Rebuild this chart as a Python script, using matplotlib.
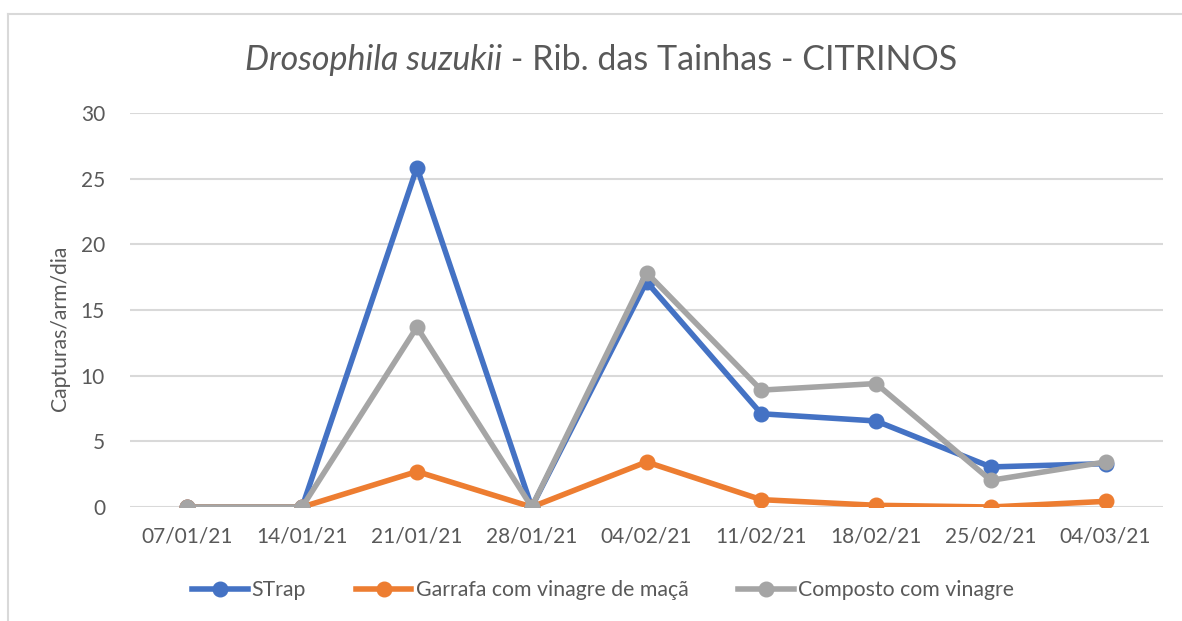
import matplotlib
matplotlib.use("Agg")
from matplotlib import pyplot as plt
from matplotlib.lines import Line2D

# Data
dates = ["07/01/21", "14/01/21", "21/01/21", "28/01/21", "04/02/21",
         "11/02/21", "18/02/21", "25/02/21", "04/03/21"]
strap = [0, 0, 25.85, 0, 17.15, 7.1, 6.55, 3.05, 3.3]
garrafa = [0, 0, 2.7, 0, 3.43, 0.56, 0.13, 0, 0.43]
composto = [0, 0, 13.7, 0, 17.85, 8.9, 9.4, 2.03, 3.43]

series_names = ["STrap", "Garrafa com vinagre de maçã", "Composto com vinagre"]
colors = ["#4472C4", "#ED7D31", "#A5A5A5"]
y_ticks = [0, 5, 10, 15, 20, 25, 30]

TEXT_COLOR = "#595959"
GRID_COLOR = "#D9D9D9"

plt.rcParams["font.family"] = ["Lato", "DejaVu Sans"]

W, H = 1182, 621
fig = plt.figure(figsize=(W / 100, H / 100), dpi=100)

# Chart border (left and top edges are visible)
fig.add_artist(Line2D([8 / W, 8 / W], [0, 1 - 14 / H], transform=fig.transFigure,
                      color=GRID_COLOR, lw=1.5))
fig.add_artist(Line2D([8 / W, 1], [1 - 14 / H, 1 - 14 / H], transform=fig.transFigure,
                      color=GRID_COLOR, lw=1.5))

ax = fig.add_axes([130 / W, 1 - 507 / H, (1163 - 130) / W, (507 - 113) / H])

x = list(range(len(dates)))
for vals, name, col in zip([strap, garrafa, composto], series_names, colors):
    ax.plot(x, vals, color=col, lw=4, marker="o", markersize=10.5,
            label=name, solid_joinstyle="round", zorder=3)

ax.set_xlim(-0.5, len(dates) - 0.5)
ax.set_ylim(0, 30)
ax.set_yticks(y_ticks)
ax.set_xticks(x)
ax.set_xticklabels(dates)
ax.yaxis.grid(True, color=GRID_COLOR, lw=1.5)
ax.set_axisbelow(True)
for s in ax.spines.values():
    s.set_visible(False)
ax.tick_params(length=0, labelsize=15, labelcolor=TEXT_COLOR, pad=14)
ax.tick_params(axis="y", pad=18)

# Y label
fig.text(60 / W, 1 - 328 / H, "Capturas/arm/dia", rotation=90, ha="center",
         va="center", fontsize=15.2, color=TEXT_COLOR)

# Title with italic species name
renderer = fig.canvas.get_renderer()
title_y = 1 - 60 / H
t1 = fig.text(0, title_y, "Drosophila suzukii", fontsize=24.5, style="italic",
              color=TEXT_COLOR, va="center")
t2 = fig.text(0, title_y, " - Rib. das Tainhas - CITRINOS", fontsize=24.5,
              color=TEXT_COLOR, va="center")
w1 = t1.get_window_extent(renderer).width / W
w2 = t2.get_window_extent(renderer).width / W
start = 601 / W - (w1 + w2) / 2
t1.set_x(start)
t2.set_x(start + w1)

fig.legend(loc="center", bbox_to_anchor=(603 / W, 1 - 590 / H), ncol=3,
           frameon=False, fontsize=15.3, labelcolor=TEXT_COLOR,
           handlelength=2.6, handletextpad=0.2, columnspacing=2.35)

fig.savefig("out.png", dpi=100, facecolor="white")
plt.close(fig)
